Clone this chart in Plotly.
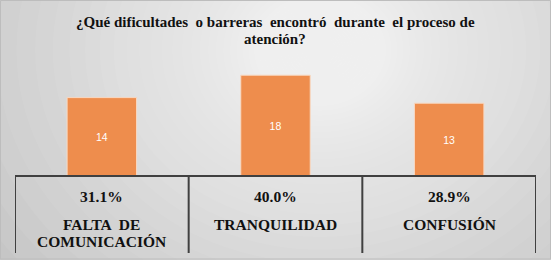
import plotly.graph_objects as go

categories = ["FALTA  DE<br>COMUNICACIÓN", "TRANQUILIDAD", "CONFUSIÓN"]
counts = [14, 18, 13]
percents = ["31.1%", "40.0%", "28.9%"]
title_lines = ["¿Qué dificultades  o barreras  encontró  durante  el proceso de", "atención?"]

W, H = 551, 260
L, R, T, B = 15, 15, 64, 84
PW, PH = W - L - R, H - T - B

x = list(range(len(categories)))
fig = go.Figure()
fig.add_trace(go.Bar(
    x=x, y=counts, text=[str(c) for c in counts], textposition="inside",
    insidetextanchor="middle", textangle=0,
    textfont=dict(family="Liberation Sans", size=10.5, color="white"),
    marker=dict(color="#EE8D4D", line=dict(color="#F8D9C3", width=1)),
    width=0.4, hoverinfo="skip",
))


def px_x(p):
    return (p - L) / PW


def px_y(p):
    return 1 - (p - T) / PH


shapes = []
# radial background gradient built from many stacked faint ellipses
base, N = 198, 50
a = 1 - (3 / (255 - base)) ** (1 / N)
cx, cy = 320, 50
for k in range(1, N + 1):
    ck = 255 - (255 - base) * (1 - a) ** k
    r = max((252 - ck) / 0.13, 4)
    shapes.append(dict(type="circle", xref="paper", yref="paper", layer="below",
                       x0=px_x(cx - r), x1=px_x(cx + r), y0=px_y(cy + 0.85 * r), y1=px_y(cy - 0.85 * r),
                       fillcolor="white", opacity=a, line=dict(width=0)))
# outer border
shapes.append(dict(type="rect", xref="paper", yref="paper", layer="above",
                   x0=px_x(0.5), x1=px_x(W - 0.5), y0=px_y(H - 1), y1=px_y(0.5),
                   line=dict(color="#BDBDBD", width=1)))

shapes.append(dict(type="line", xref="x", yref="paper", x0=-0.5, x1=2.5, y0=0, y1=0,
                   line=dict(color="#404040", width=2)))
for xv in [-0.5, 0.5, 1.5, 2.5]:
    shapes.append(dict(type="line", xref="x", yref="paper", x0=xv, x1=xv, y0=0, y1=-77 / PH,
                       line=dict(color="#404040", width=2)))

serif_t = dict(family="Liberation Serif", size=15, color="#111111")
serif = dict(family="Liberation Serif", size=15.5, color="#111111")
ann = []
for line, yc in zip(title_lines, [22, 38.5]):
    ann.append(dict(text="<b>" + line + "</b>", xref="paper", yref="paper",
                    x=px_x(275), y=px_y(yc), showarrow=False, font=serif_t,
                    xanchor="center", yanchor="middle"))
for i, (c, p) in enumerate(zip(categories, percents)):
    ann.append(dict(text="<b>" + p + "</b>", xref="x", yref="paper", x=i, y=px_y(196.5),
                    showarrow=False, font=serif, xanchor="center", yanchor="middle"))
    for line, yc in zip(c.split("<br>"), [224.3, 241]):
        ann.append(dict(text="<b>" + line + "</b>", xref="x", yref="paper", x=i, y=px_y(yc),
                        showarrow=False, font=serif, xanchor="center", yanchor="middle"))

fig.update_layout(
    width=W, height=H, margin=dict(l=L, r=R, t=T, b=B),
    paper_bgcolor="rgb(198,198,198)", plot_bgcolor="rgba(0,0,0,0)",
    xaxis=dict(range=[-0.5, 2.5], visible=False, fixedrange=True),
    yaxis=dict(range=[0, 20], visible=False, fixedrange=True),
    shapes=shapes, annotations=ann, showlegend=False,
)
fig.write_html("out.html")
